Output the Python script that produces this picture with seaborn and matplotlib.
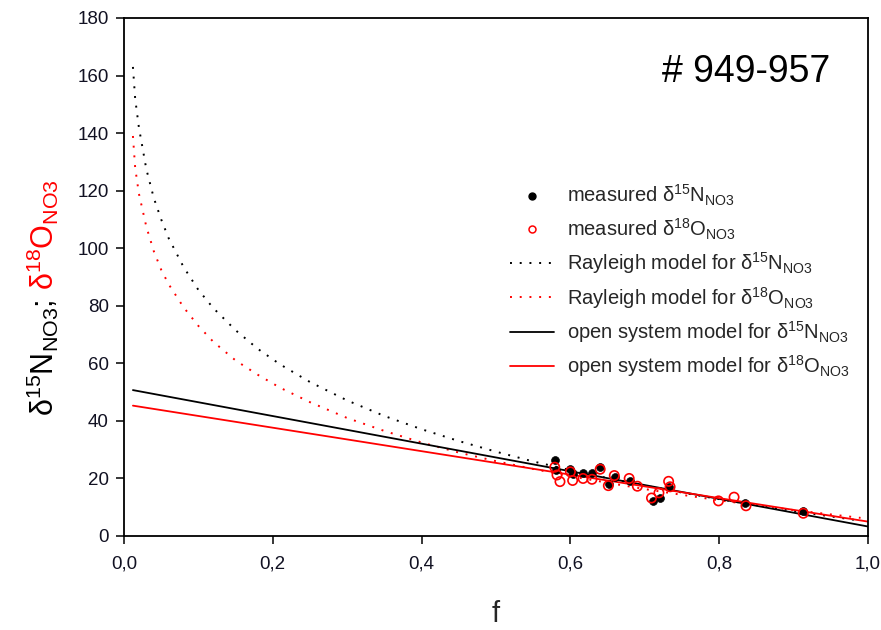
import matplotlib
matplotlib.use("Agg")
import matplotlib.pyplot as plt
import numpy as np
import pandas as pd
import seaborn as sns
from matplotlib.ticker import FuncFormatter, MultipleLocator

# ---------------- data ----------------
meas_N_f = [0.579, 0.581, 0.600, 0.603, 0.617, 0.629, 0.640, 0.652, 0.660,
            0.680, 0.711, 0.720, 0.733, 0.835, 0.913]
meas_N_v = [26.4, 22.8, 23.3, 21.5, 22.0, 22.0, 24.0, 18.0, 20.5,
            19.0, 12.3, 13.2, 17.0, 11.3, 8.7]

meas_O_f = [0.579, 0.582, 0.586, 0.600, 0.603, 0.617, 0.629, 0.640, 0.651,
            0.659, 0.679, 0.690, 0.709, 0.719, 0.732, 0.734, 0.799, 0.820,
            0.836, 0.913]
meas_O_v = [23.9, 21.2, 18.9, 22.3, 19.3, 20.0, 19.7, 23.2, 17.5,
            21.0, 20.0, 17.3, 13.2, 15.0, 19.0, 17.1, 12.2, 13.5,
            10.5, 7.9]

ray_f = [0.012, 0.015, 0.02, 0.03, 0.04, 0.05, 0.06, 0.08, 0.10, 0.12, 0.15,
         0.18, 0.21, 0.25, 0.30, 0.35, 0.40, 0.45, 0.50, 0.55, 0.60, 0.65,
         0.70, 0.75, 0.80, 0.85, 0.90, 0.95, 0.99]
ray_N = [163, 152, 142, 127.5, 117.5, 110, 103.5, 93.5, 85.5, 79.2, 71.5,
         65, 59.6, 53.5, 47.1, 41.7, 37.1, 33, 29.3, 25.9, 22.9, 20.1,
         17.5, 15.1, 12.8, 10.7, 8.7, 6.8, 5.3]
ray_O = [139, 128, 119, 107.5, 99, 92.5, 87.5, 79.5, 73, 67.5, 61,
         56, 51.5, 46.5, 41, 36.5, 32.5, 29, 26, 23.3, 20.8, 18.5,
         16.3, 14.3, 12.4, 10.7, 9.0, 7.5, 6.3]

open_f = [0.012, 1.0]
open_N = [50.7, 3.3]
open_O = [45.3, 5.0]

x_ticks = [0.0, 0.2, 0.4, 0.6, 0.8, 1.0]
y_ticks = [0, 20, 40, 60, 80, 100, 120, 140, 160, 180]

title_text = "# 949-957"
leg_labels = [
    "measured δ$^{15}$N$_{NO3}$",
    "measured δ$^{18}$O$_{NO3}$",
    "Rayleigh model for δ$^{15}$N$_{NO3}$",
    "Rayleigh model for δ$^{18}$O$_{NO3}$",
    "open system model for δ$^{15}$N$_{NO3}$",
    "open system model for δ$^{18}$O$_{NO3}$",
]

# ---------------- style ----------------
sns.set_style("ticks")
plt.rcParams["font.family"] = ["Liberation Sans", "DejaVu Sans"]
plt.rcParams["mathtext.default"] = "regular"
plt.rcParams["mathtext.fontset"] = "custom"
plt.rcParams["mathtext.rm"] = "Liberation Sans"

fig = plt.figure(figsize=(8.81, 6.30), dpi=100)
W, H = 881, 630
ax = fig.add_axes([124 / W, 1 - 536 / H, (868 - 124) / W, (536 - 18) / H])

dfN = pd.DataFrame({"f": meas_N_f, "v": meas_N_v})
dfO = pd.DataFrame({"f": meas_O_f, "v": meas_O_v})
dfR = pd.DataFrame({"f": ray_f, "N": ray_N, "O": ray_O})
dfOp = pd.DataFrame({"f": open_f, "N": open_N, "O": open_O})

dot = (0, (1, 4))
sns.lineplot(data=dfR, x="f", y="N", ax=ax, color="black", lw=1.4,
             linestyle=dot, estimator=None, sort=False)
sns.lineplot(data=dfR, x="f", y="O", ax=ax, color="red", lw=1.4,
             linestyle=dot, estimator=None, sort=False)
sns.lineplot(data=dfOp, x="f", y="N", ax=ax, color="black", lw=1.3,
             estimator=None, sort=False)
sns.lineplot(data=dfOp, x="f", y="O", ax=ax, color="red", lw=1.3,
             estimator=None, sort=False)
sns.scatterplot(data=dfN, x="f", y="v", ax=ax, color="black", s=32,
                edgecolor="black", linewidth=0.5, zorder=3)
sns.scatterplot(data=dfO, x="f", y="v", ax=ax, facecolor="none", s=45,
                edgecolor="red", linewidth=1.2, zorder=4)

ax.set_xlim(0, 1.0)
ax.set_ylim(0, 180)
ax.set_xticks(x_ticks)
ax.set_yticks(y_ticks)
ax.xaxis.set_major_formatter(FuncFormatter(lambda v, p: f"{v:.1f}".replace(".", ",")))
ax.tick_params(axis="both", direction="out", length=6, width=1.1,
               labelsize=13.5, colors="black", labelcolor="#111122", pad=5)
ax.tick_params(axis="x", pad=8)
for sp in ax.spines.values():
    sp.set_visible(True)
    sp.set_linewidth(1.3)
    sp.set_color("black")
ax.set_xlabel("f", fontsize=21, labelpad=20)
ax.set_ylabel("")

ax.text((830 - 124) / 744, (536 - 72) / 518, title_text, transform=ax.transAxes,
        ha="right", va="center", fontsize=27, color="black")

# legend
from matplotlib.lines import Line2D
handles = [
    Line2D([], [], ls="none", marker="o", color="black", markersize=5),
    Line2D([], [], ls="none", marker="o", mfc="none", mec="red", markersize=5, mew=1.1),
    Line2D([], [], color="black", lw=1.4, linestyle=dot),
    Line2D([], [], color="red", lw=1.4, linestyle=dot),
    Line2D([], [], color="black", lw=1.3),
    Line2D([], [], color="red", lw=1.3),
]
ax.legend(handles, leg_labels, loc="upper left",
          bbox_to_anchor=((510 - 124) / 744, (536 - 183) / 518),
          frameon=False, fontsize=14.5, handlelength=2.2, handletextpad=0.65,
          labelspacing=0.42, borderpad=0, borderaxespad=0)

# two-colour y label
fs_lab = 22
x_base = 54 / W
t1 = fig.text(x_base, 1 - 416 / H, "δ$^{15}$N$_{NO3}$;", rotation=90,
              rotation_mode="anchor", ha="left", va="baseline",
              fontsize=fs_lab, color="black")
fig.canvas.draw()
bb = t1.get_window_extent()
t2 = fig.text(x_base, (bb.y1 + 9) / fig.bbox.height, "δ$^{18}$O$_{NO3}$",
              rotation=90, rotation_mode="anchor", ha="left", va="baseline",
              fontsize=fs_lab, color="red")

fig.savefig("out.png", dpi=100)
